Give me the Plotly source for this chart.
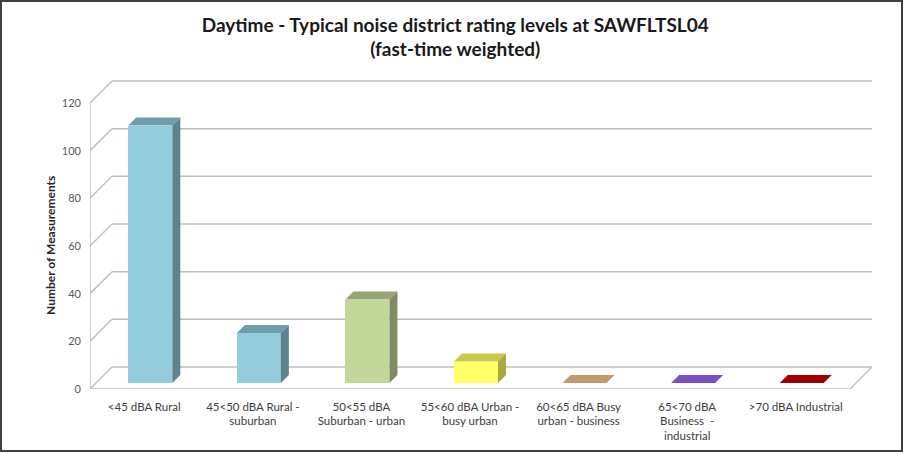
import plotly.graph_objects as go

# ---- data ----
categories = [
    "&lt;45 dBA Rural",
    "45&lt;50 dBA Rural -<br>suburban",
    "50&lt;55 dBA<br>Suburban - urban",
    "55&lt;60 dBA Urban -<br>busy urban",
    "60&lt;65 dBA Busy<br>urban - business",
    "65&lt;70 dBA<br>Business  -<br>industrial",
    "&gt;70 dBA Industrial",
]
values = [108, 21, 35, 9, 0, 0, 0]
y_ticks = [0, 20, 40, 60, 80, 100, 120]

front_colors = ["#93CDDD", "#93CDDD", "#C4D79B", "#FFFF66", "#C4996E", "#7A50C2", "#A00000"]
top_colors = ["#6F9DA9", "#6F9DA9", "#97A676", "#C9C94B", "#C4996E", "#7A50C2", "#A00000"]
side_colors = ["#5E838D", "#5E838D", "#7F8B62", "#A9A93E", "#A47E58", "#5E3D99", "#7E0000"]

# ---- geometry (pixel-based 3D look) ----
W, H = 905, 454
ML, MR, MT, MB = 90, 33, 80, 65
plot_w = W - ML - MR
plot_h = H - MT - MB
cat_px = 760 / 7.0          # pixels per category
y_px = 286 / 120.0          # pixels per unit
wall_dx = 22 / cat_px
wall_dy = 22 / y_px
f_dx, f_dy = 6 / cat_px, 6 / y_px
b_dx, b_dy = 14 / cat_px, 14 / y_px
bar_w = 44 / cat_px

n = len(categories)
x0, x1 = -0.5, n - 0.5
xr = [x0, x0 + plot_w / cat_px]
yr = [0, plot_h / y_px]

grid_col = "#BFBFBF"
shapes = []


def seg(xa, ya, xb, yb, col=grid_col, w=1.5):
    shapes.append(dict(type="line", xref="x", yref="y", x0=xa, y0=ya, x1=xb, y1=yb,
                       line=dict(color=col, width=w), layer="below"))


# back-wall gridlines with side-wall diagonals
for v in y_ticks:
    seg(x0, v, x0 + wall_dx, v + wall_dy)
    seg(x0 + wall_dx, v + wall_dy, x1 + wall_dx, v + wall_dy)
# floor front edge, right edge, front axis line
seg(x0, 0, x1, 0)
seg(x1, 0, x1 + wall_dx, wall_dy)
seg(x0, 0, x0, y_ticks[-1])

fig = go.Figure()

# front faces
fig.add_trace(go.Bar(
    x=[i + f_dx for i in range(n)], y=values, base=[f_dy] * n, width=bar_w,
    marker=dict(color=front_colors, line=dict(width=0)), showlegend=False,
    hoverinfo="skip"))

# top and side faces
for i, v in enumerate(values):
    xl, xrr = i - bar_w / 2, i + bar_w / 2
    fig.add_trace(go.Scatter(
        x=[xl + f_dx, xrr + f_dx, xrr + b_dx, xl + b_dx, xl + f_dx],
        y=[v + f_dy, v + f_dy, v + b_dy, v + b_dy, v + f_dy],
        fill="toself", fillcolor=top_colors[i], mode="lines",
        line=dict(width=0, color=top_colors[i]), showlegend=False, hoverinfo="skip"))
    if v > 0:
        fig.add_trace(go.Scatter(
            x=[xrr + f_dx, xrr + b_dx, xrr + b_dx, xrr + f_dx, xrr + f_dx],
            y=[f_dy, b_dy, v + b_dy, v + f_dy, f_dy],
            fill="toself", fillcolor=side_colors[i], mode="lines",
            line=dict(width=0, color=side_colors[i]), showlegend=False, hoverinfo="skip"))

# outer chart border
shapes.append(dict(type="rect", xref="paper", yref="paper",
                   x0=(1 - ML) / plot_w, x1=(902 - ML) / plot_w,
                   y0=-(H - 3 - MT - plot_h) / plot_h, y1=(MT - 1) / plot_h + 1,
                   line=dict(color="#404040", width=2)))

fig.update_layout(
    width=W, height=H,
    margin=dict(l=ML, r=MR, t=MT, b=MB, autoexpand=False),
    paper_bgcolor="white", plot_bgcolor="white",
    font=dict(family="Lato, 'Open Sans', sans-serif", color="#404040"),
    title=dict(text="<b>Daytime - Typical noise district rating levels at SAWFLTSL04<br>(fast-time weighted)</b>",
               x=0.503, xanchor="center", y=0.93, yanchor="top",
               font=dict(size=19, color="#1a1a1a")),
    shapes=shapes,
    annotations=[dict(text="<b>Number of Measurements</b>", textangle=-90,
                      xref="paper", yref="paper",
                      x=(50 - ML) / plot_w, y=(389 - 246) / plot_h,
                      xanchor="center", yanchor="middle", showarrow=False,
                      font=dict(size=12, color="#262626"))],
    bargap=0,
    showlegend=False,
)
fig.update_xaxes(range=xr, tickvals=list(range(n)), ticktext=categories,
                 showgrid=False, zeroline=False, showline=False, ticks="",
                 tickfont=dict(size=11.5, color="#404040"), tickangle=0,
                 ticklabelstandoff=9, automargin=False)
fig.update_yaxes(range=yr, tickvals=y_ticks, showgrid=False, zeroline=False,
                 showline=False, ticks="", tickfont=dict(size=11, color="#595959"),
                 ticklabelstandoff=8, automargin=False)

fig.write_html("out.html", config={"displayModeBar": False},
               post_script="document.body.style.margin='0';document.body.style.overflow='hidden';")
